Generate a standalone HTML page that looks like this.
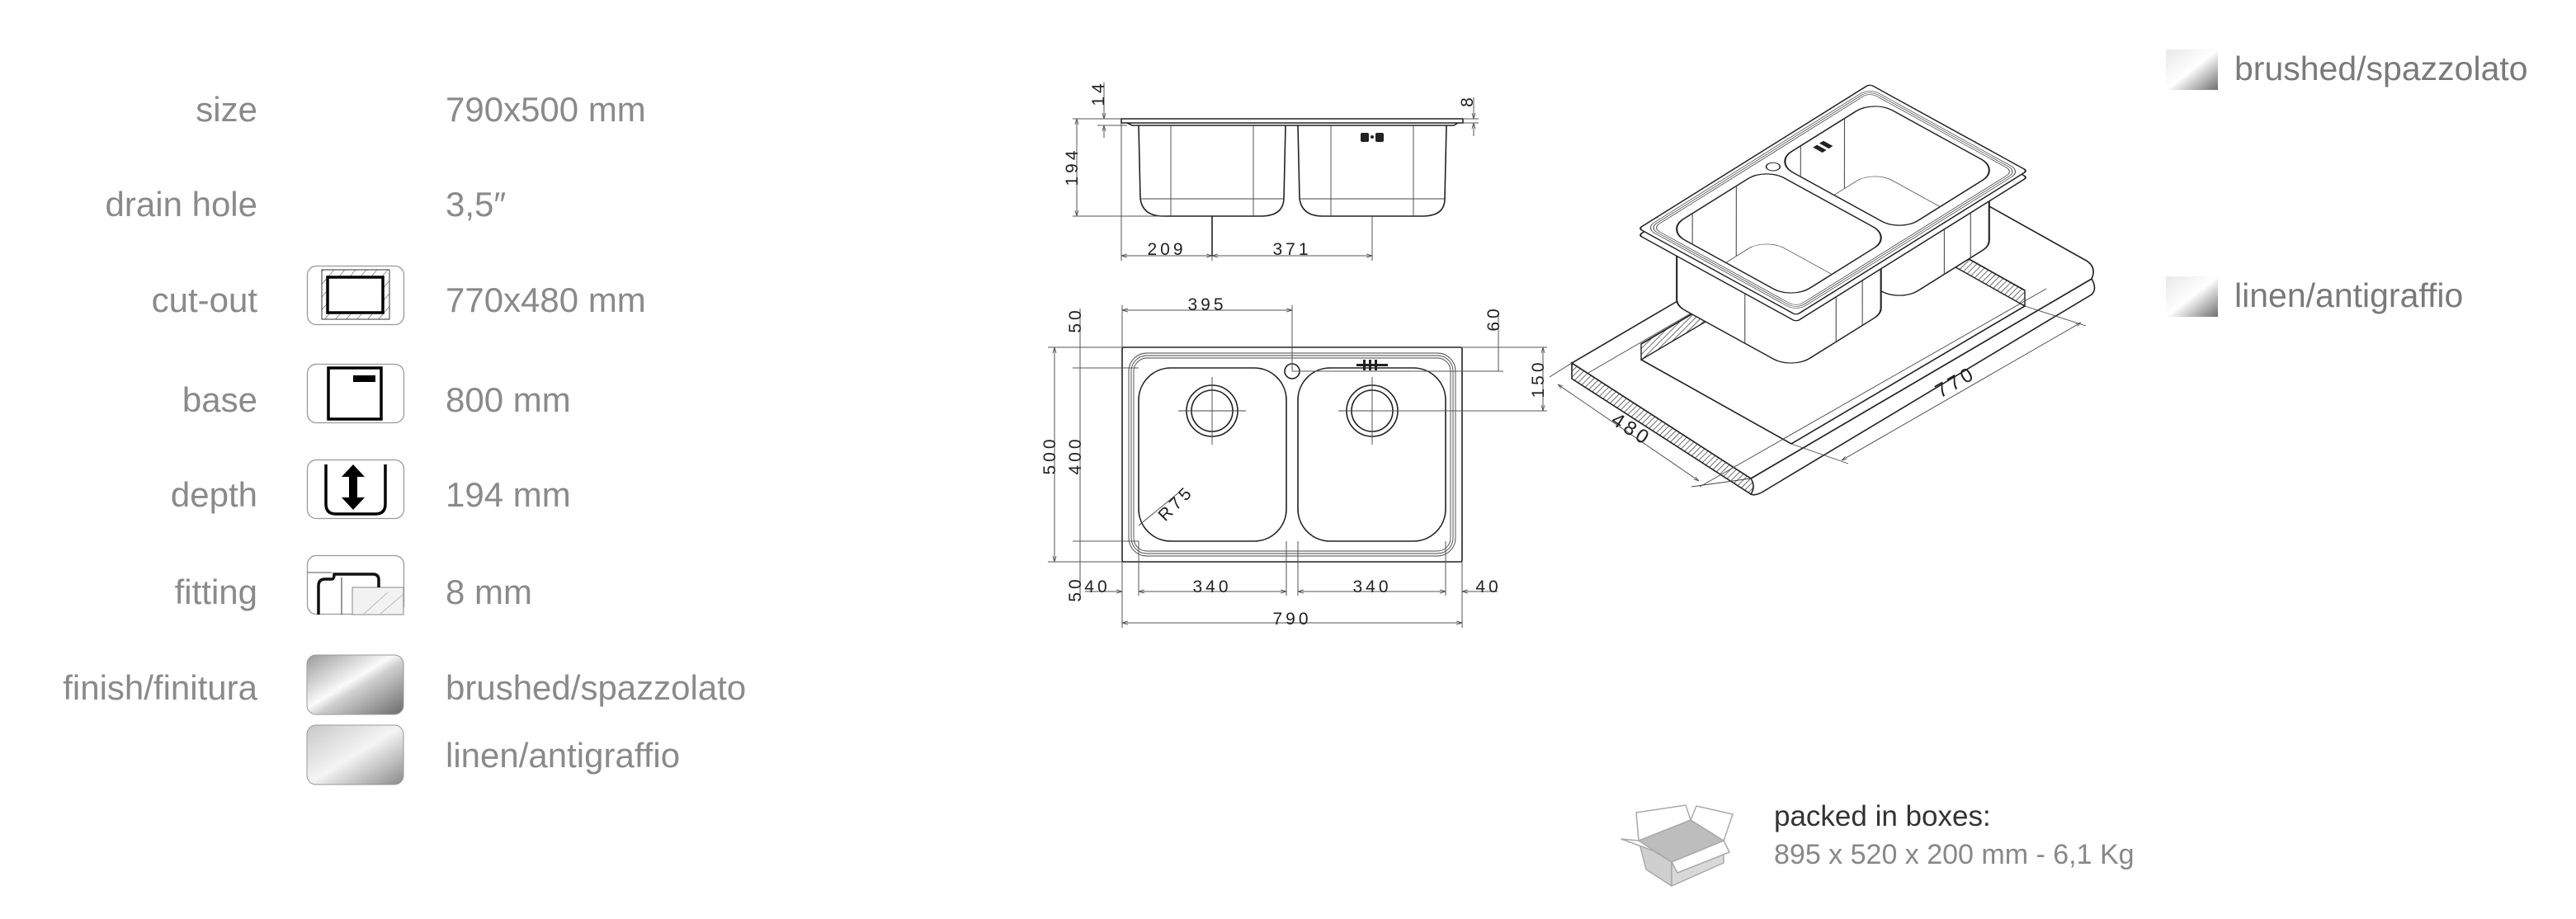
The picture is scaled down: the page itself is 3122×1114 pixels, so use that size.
<!DOCTYPE html>
<html><head><meta charset="utf-8"><style>
html,body{margin:0;padding:0;background:#fff}
svg{display:block}
.lb{font-family:"Liberation Sans",sans-serif;font-size:42px;fill:#8a8a8a}
.dm{font-family:"Liberation Sans",sans-serif;font-size:21px;fill:#222;letter-spacing:4px}
.ln{stroke:#222;stroke-width:1.6;fill:none}
.th{stroke:#444;stroke-width:0.9;fill:none}
.dl{stroke:#555;stroke-width:1;fill:none}
</style></head><body>
<svg width="3122" height="1114" viewBox="0 0 3122 1114" xmlns="http://www.w3.org/2000/svg">
<defs>
<linearGradient id="gb" x1="0" y1="0" x2="1" y2="1">
<stop offset="0" stop-color="#9a9a9a"/><stop offset="0.45" stop-color="#fafafa"/><stop offset="0.55" stop-color="#cfcfcf"/><stop offset="1" stop-color="#6a6a6a"/></linearGradient>
<linearGradient id="gl" x1="0" y1="0" x2="1" y2="1">
<stop offset="0" stop-color="#c8c8c8"/><stop offset="0.5" stop-color="#f4f4f4"/><stop offset="1" stop-color="#8a8a8a"/></linearGradient>
<linearGradient id="gs" x1="0" y1="0" x2="1" y2="1">
<stop offset="0" stop-color="#e8e8e8"/><stop offset="0.5" stop-color="#fff"/><stop offset="1" stop-color="#6e6e6e"/></linearGradient>
<pattern id="hat" width="5" height="5" patternUnits="userSpaceOnUse" patternTransform="rotate(45)">
<rect width="5" height="5" fill="#fff"/><line x1="0" y1="0" x2="0" y2="5" stroke="#333" stroke-width="1.4"/></pattern>
<pattern id="hat2" width="10" height="10" patternUnits="userSpaceOnUse" patternTransform="rotate(40)">
<rect width="10" height="10" fill="#fff"/><line x1="0" y1="0" x2="0" y2="10" stroke="#333" stroke-width="1"/></pattern>
<marker id="ar" viewBox="0 0 10 10" refX="10" refY="5" markerWidth="7" markerHeight="7" orient="auto-start-reverse"><path d="M0,2 L10,5 L0,8" fill="none" stroke="#555" stroke-width="1.2"/></marker>
<clipPath id="cl1" clipPathUnits="userSpaceOnUse"><rect x="40" y="50" width="340" height="400" rx="60"/></clipPath>
<clipPath id="cl2" clipPathUnits="userSpaceOnUse"><rect x="410" y="50" width="340" height="400" rx="60"/></clipPath>
</defs>

<!-- LEFT SPEC TABLE -->
<g class="lb">
<text x="312" y="147" text-anchor="end">size</text>
<text x="312" y="262" text-anchor="end">drain hole</text>
<text x="312" y="378" text-anchor="end">cut-out</text>
<text x="312" y="499" text-anchor="end">base</text>
<text x="312" y="614" text-anchor="end">depth</text>
<text x="312" y="732" text-anchor="end">fitting</text>
<text x="312" y="848" text-anchor="end">finish/finitura</text>
<text x="540" y="147">790x500 mm</text>
<text x="540" y="262">3,5″</text>
<text x="540" y="378">770x480 mm</text>
<text x="540" y="499">800 mm</text>
<text x="540" y="614">194 mm</text>
<text x="540" y="732">8 mm</text>
<text x="540" y="848">brushed/spazzolato</text>
<text x="540" y="930">linen/antigraffio</text>
</g>
<!-- icons -->
<rect x="372.5" y="322.5" width="117" height="71" rx="11" fill="#fff" stroke="#9a9a9a" stroke-width="1.3"/>
<rect x="390" y="327" width="82" height="60" fill="url(#hat2)" stroke="#333" stroke-width="1"/>
<rect x="397" y="336" width="67" height="43" fill="#fff" stroke="#000" stroke-width="3.5"/>
<rect x="372.5" y="441.5" width="117" height="71" rx="11" fill="#fff" stroke="#9a9a9a" stroke-width="1.3"/>
<rect x="398" y="446" width="64" height="62" fill="none" stroke="#000" stroke-width="3.5"/>
<rect x="428" y="455" width="27" height="8" fill="#000"/>
<rect x="372.5" y="557.5" width="117" height="71" rx="11" fill="#fff" stroke="#9a9a9a" stroke-width="1.3"/>
<path d="M395,563 V611 Q395,623 407,623 H455 Q467,623 467,611 V563" fill="none" stroke="#000" stroke-width="3.5"/>
<path d="M428,563 L442,578 H433 V603 H442 L428,618 L414,603 H423 V578 H414 Z" fill="#000"/>
<rect x="372.5" y="673.5" width="117" height="71" rx="11" fill="#fff" stroke="#9a9a9a" stroke-width="1.3"/>
<line x1="373" y1="694" x2="402" y2="694" stroke="#555" stroke-width="1"/>
<rect x="427" y="712" width="62" height="33" fill="#f2f2f2" stroke="#888" stroke-width="1"/>
<line x1="440" y1="745" x2="470" y2="718" stroke="#bbb" stroke-width="1"/><line x1="460" y1="745" x2="489" y2="720" stroke="#bbb" stroke-width="1"/>
<path d="M386,745 V710 Q386,702 394,702 H402 Q405,702 405,696 H452 Q459,696 459,703 V712" fill="none" stroke="#111" stroke-width="3.5"/>
<line x1="414" y1="700" x2="414" y2="745" stroke="#555" stroke-width="1.2"/>
<rect x="372" y="794" width="117" height="72" rx="11" fill="url(#gb)" stroke="#999" stroke-width="1"/>
<rect x="372" y="879" width="117" height="72" rx="11" fill="url(#gl)" stroke="#999" stroke-width="1"/>

<!-- SIDE VIEW -->
<g class="ln">
<path d="M1359,144 H1773 V149 H1359 Z"/>
<path d="M1366,149 L1372,152 H1762 L1767,149"/>
<path d="M1380,152 L1382,241 Q1385,262 1410,262 H1528 Q1555,262 1556,241 L1558,152"/>
<path d="M1573,152 L1575,241 Q1578,262 1603,262 H1724 Q1751,262 1751,241 L1753,152"/>
</g>
<g class="th">
<line x1="1382" y1="241" x2="1556" y2="241"/><line x1="1575" y1="241" x2="1751" y2="241"/>
<line x1="1419" y1="152" x2="1419" y2="262"/><line x1="1519" y1="152" x2="1519" y2="262"/>
<line x1="1613" y1="152" x2="1613" y2="262"/><line x1="1713" y1="152" x2="1713" y2="262"/>
</g>
<g fill="#222"><rect x="1649" y="161" width="10" height="11" rx="2"/><rect x="1667" y="161" width="10" height="11" rx="2"/><circle cx="1663" cy="166" r="2"/></g>
<g class="dl">
<line x1="1300" y1="144" x2="1359" y2="144"/><line x1="1300" y1="262" x2="1410" y2="262"/><line x1="1330" y1="152" x2="1366" y2="152"/>
<line x1="1305" y1="144" x2="1305" y2="262" marker-start="url(#ar)" marker-end="url(#ar)"/>
<line x1="1338" y1="100" x2="1338" y2="144" marker-end="url(#ar)"/><line x1="1338" y1="167" x2="1338" y2="152" marker-end="url(#ar)"/>
<line x1="1773" y1="144" x2="1792" y2="144"/><line x1="1773" y1="149" x2="1792" y2="149"/>
<line x1="1786" y1="118" x2="1786" y2="144" marker-end="url(#ar)"/><line x1="1786" y1="165" x2="1786" y2="149" marker-end="url(#ar)"/>
<line x1="1359" y1="149" x2="1359" y2="316"/><line x1="1469" y1="262" x2="1469" y2="316"/><line x1="1663" y1="262" x2="1663" y2="316"/>
<line x1="1359" y1="310" x2="1469" y2="310" marker-start="url(#ar)" marker-end="url(#ar)"/>
<line x1="1469" y1="310" x2="1663" y2="310" marker-start="url(#ar)" marker-end="url(#ar)"/>
</g>
<line x1="1469" y1="262" x2="1469" y2="310" stroke="#222" stroke-width="1.6"/>
<g class="dm">
<text x="1414" y="309" text-anchor="middle">209</text>
<text x="1566" y="309" text-anchor="middle">371</text>
<text transform="translate(1306,202) rotate(-90)" text-anchor="middle">194</text>
<text transform="translate(1338,113) rotate(-90)" text-anchor="middle">14</text>
<text transform="translate(1785,122) rotate(-90)" text-anchor="middle">8</text>
</g>

<!-- TOP VIEW -->
<g class="ln">
<rect x="1360" y="421" width="412" height="260" rx="2"/>
<rect x="1380" y="446" width="179" height="210" rx="39"/>
<rect x="1573" y="446" width="179" height="210" rx="39"/>
<circle cx="1469" cy="498" r="31"/><circle cx="1469" cy="498" r="25"/>
<circle cx="1663" cy="498" r="31"/><circle cx="1663" cy="498" r="25"/>
<circle cx="1566" cy="450" r="9"/>
</g>
<g class="th">
<rect x="1368" y="428" width="396" height="246" rx="22"/>
<rect x="1371" y="431" width="390" height="240" rx="19"/>
<rect x="1374" y="434" width="384" height="234" rx="16"/>
<line x1="1428" y1="498" x2="1510" y2="498"/><line x1="1469" y1="457" x2="1469" y2="539"/>
<line x1="1622" y1="498" x2="1704" y2="498"/><line x1="1663" y1="457" x2="1663" y2="539"/>
<line x1="1380" y1="637" x2="1430" y2="596"/>
</g>
<g fill="#222"><rect x="1644" y="441" width="38" height="3"/><rect x="1652" y="436" width="3" height="13"/><rect x="1659" y="436" width="3" height="13"/><rect x="1666" y="436" width="3" height="13"/></g>
<g class="dl">
<line x1="1360" y1="421" x2="1360" y2="370"/><line x1="1566" y1="450" x2="1566" y2="370"/>
<line x1="1360" y1="376" x2="1566" y2="376" marker-start="url(#ar)" marker-end="url(#ar)"/>
<line x1="1270" y1="421" x2="1360" y2="421"/><line x1="1270" y1="681" x2="1360" y2="681"/>
<line x1="1278" y1="421" x2="1278" y2="681" marker-start="url(#ar)" marker-end="url(#ar)"/>
<line x1="1300" y1="446" x2="1380" y2="446"/><line x1="1300" y1="656" x2="1380" y2="656"/>
<line x1="1309" y1="374" x2="1309" y2="724"/>
<line x1="1772" y1="421" x2="1875" y2="421"/><line x1="1566" y1="450" x2="1822" y2="450"/><line x1="1663" y1="498" x2="1875" y2="498"/>
<line x1="1816" y1="380" x2="1816" y2="450"/>
<line x1="1870" y1="421" x2="1870" y2="498" marker-start="url(#ar)" marker-end="url(#ar)"/>
<line x1="1360" y1="681" x2="1360" y2="761"/><line x1="1772" y1="681" x2="1772" y2="761"/>
<line x1="1380" y1="656" x2="1380" y2="722"/><line x1="1559" y1="656" x2="1559" y2="722"/>
<line x1="1573" y1="656" x2="1573" y2="722"/><line x1="1752" y1="656" x2="1752" y2="722"/>
<line x1="1315" y1="717" x2="1360" y2="717" marker-end="url(#ar)"/>
<line x1="1380" y1="717" x2="1559" y2="717" marker-start="url(#ar)" marker-end="url(#ar)"/>
<line x1="1573" y1="717" x2="1752" y2="717" marker-start="url(#ar)" marker-end="url(#ar)"/>
<line x1="1815" y1="717" x2="1772" y2="717" marker-end="url(#ar)"/>
<line x1="1360" y1="755" x2="1772" y2="755" marker-start="url(#ar)" marker-end="url(#ar)"/>
</g>
<g class="dm">
<text x="1463" y="376" text-anchor="middle">395</text>
<text x="1469" y="718" text-anchor="middle">340</text>
<text x="1663" y="718" text-anchor="middle">340</text>
<text x="1330" y="718" text-anchor="middle">40</text>
<text x="1804" y="718" text-anchor="middle">40</text>
<text x="1566" y="757" text-anchor="middle">790</text>
<text transform="translate(1279,552) rotate(-90)" text-anchor="middle">500</text>
<text transform="translate(1310,552) rotate(-90)" text-anchor="middle">400</text>
<text transform="translate(1310,388) rotate(-90)" text-anchor="middle">50</text>
<text transform="translate(1310,714) rotate(-90)" text-anchor="middle">50</text>
<text transform="translate(1817,386) rotate(-90)" text-anchor="middle">60</text>
<text transform="translate(1871,459) rotate(-90)" text-anchor="middle">150</text>
<text transform="translate(1430,615) rotate(-45)" text-anchor="middle">R75</text>
</g>

<!-- ISO VIEW: countertop -->
<path d="M2122,580 L2535,338 Q2542,350 2535,357 L2140,594 Q2128,602 2122,599 Z" fill="#fff" stroke="#222" stroke-width="1.6"/>
<path d="M1905,440 L2122,580 Q2128,590 2122,599 L1905,459 Z" fill="url(#hat)" stroke="#222" stroke-width="1.6"/>
<path d="M1905,440 L2122,580 L2535,338 Q2542,322 2525,314 L2318,198 L1905,440 Z" fill="#fff" stroke="#222" stroke-width="1.6"/>
<path d="M1989,417 L2272,250 L2454,352 L2454,371 L2272,269 L1989,436 Z" fill="url(#hat)" stroke="#222" stroke-width="1.4"/>
<path d="M1989,436 L2171,538 L2454,371" fill="none" stroke="#222" stroke-width="1.6"/>
<path d="M1989,417 L2272,250 L2454,352" fill="none" stroke="#222" stroke-width="1.6"/>
<g class="th">
<line x1="1905" y1="440" x2="1878" y2="457"/><line x1="2122" y1="580" x2="2050" y2="590"/>
<line x1="1888" y1="466" x2="2059" y2="583" marker-start="url(#ar)" marker-end="url(#ar)"/>
<line x1="2171" y1="538" x2="2240" y2="562"/><line x1="2454" y1="371" x2="2528" y2="395"/>
<line x1="2232" y1="558" x2="2522" y2="391" marker-start="url(#ar)" marker-end="url(#ar)"/>
<line x1="1925" y1="452" x2="2080" y2="362"/><line x1="2060" y1="590" x2="2480" y2="350"/>
</g>
<g class="dm" style="font-size:24px">
<text transform="translate(1973,527) rotate(33)" text-anchor="middle">480</text>
<text transform="translate(2374,470) rotate(-30)" text-anchor="middle">770</text>
</g>

<!-- ISO sink in plan coords -->
<g transform="matrix(0.3544,-0.2215,0.382,0.21,1986,277)" stroke-linejoin="round">
 <g fill="#fff" stroke="#222" stroke-width="4">
  <rect x="410" y="50" width="340" height="400" rx="60" transform="translate(-204.2,189.4)"/>
  <polygon points="429.2,66 730.8,434 526.6,623.4 225,255.4" stroke="none"/>
  <line x1="730.8" y1="434" x2="526.6" y2="623.4"/>
 </g>
 <g fill="none" stroke="#444" stroke-width="2"><line x1="650" y1="450" x2="445.8" y2="639.4"/><line x1="560" y1="450" x2="355.8" y2="639.4"/></g>
 <g fill="#fff" stroke="#222" stroke-width="4">
  <rect x="40" y="50" width="340" height="400" rx="60" transform="translate(-204.2,189.4)"/>
  <polygon points="59.2,66 360.8,434 156.6,623.4 -145,255.4" stroke="none"/>
  <line x1="360.8" y1="434" x2="156.6" y2="623.4"/>
  <line x1="59.2" y1="66" x2="-145" y2="255.4"/>
 </g>
 <g fill="none" stroke="#444" stroke-width="2"><line x1="280" y1="450" x2="75.8" y2="639.4"/><line x1="190" y1="450" x2="-14.2" y2="639.4"/><line x1="40" y1="300" x2="-164.2" y2="489.4"/></g>
 <rect x="0" y="0" width="790" height="500" rx="10" fill="#fff" stroke="#222" stroke-width="4" transform="translate(-19.2,17.8)"/>
 <rect x="0" y="0" width="790" height="500" rx="10" fill="#fff" stroke="#222" stroke-width="4"/>
 <rect x="12" y="10" width="766" height="480" rx="30" fill="none" stroke="#444" stroke-width="2"/>
 <rect x="18" y="16" width="754" height="468" rx="26" fill="none" stroke="#444" stroke-width="2"/>
 <rect x="24" y="22" width="742" height="456" rx="22" fill="none" stroke="#444" stroke-width="2"/>
 <rect x="40" y="50" width="340" height="400" rx="60" fill="#fff" stroke="#222" stroke-width="4"/>
 <rect x="410" y="50" width="340" height="400" rx="60" fill="#fff" stroke="#222" stroke-width="4"/>
 <g clip-path="url(#cl1)" fill="none" stroke="#444" stroke-width="2">
  <rect x="40" y="50" width="340" height="400" rx="60" transform="translate(-204.2,189.4)"/>
  <line x1="40" y1="150" x2="-164" y2="339"/><line x1="40" y1="300" x2="-164" y2="489"/>
  <line x1="130" y1="50" x2="-74" y2="239"/><line x1="280" y1="50" x2="76" y2="239"/>
 </g>
 <g clip-path="url(#cl2)" fill="none" stroke="#444" stroke-width="2">
  <rect x="410" y="50" width="340" height="400" rx="60" transform="translate(-204.2,189.4)"/>
  <line x1="410" y1="150" x2="206" y2="339"/><line x1="410" y1="300" x2="206" y2="489"/>
  <line x1="500" y1="50" x2="296" y2="239"/><line x1="650" y1="50" x2="446" y2="239"/>
 </g>
 <circle cx="395" cy="60" r="16" fill="#fff" stroke="#222" stroke-width="3"/>
 <g fill="#222"><rect x="515" y="75" width="14" height="30"/><rect x="537" y="75" width="14" height="30"/></g>
</g>

<!-- right swatches -->
<rect x="2625" y="60" width="63" height="49" fill="url(#gs)"/>
<rect x="2625" y="335" width="63" height="49" fill="url(#gs)"/>
<g class="lb" style="fill:#7a7a7a;font-size:41px">
<text x="2708" y="97">brushed/spazzolato</text>
<text x="2708" y="372">linen/antigraffio</text>
</g>

<!-- packed -->
<g stroke="#aaa" stroke-width="1.5" stroke-linejoin="round">
<path d="M1986,1019 L2026,1045 L2026,1074 L1995,1054 Z" fill="#cfcfcf"/>
<path d="M2026,1045 L2089,1019 L2089,1046 L2026,1074 Z" fill="#d9d9d9"/>
<path d="M1986,1019 L2049,994 L2089,1019 L2026,1045 Z" fill="#bdbdbd"/>
<path d="M1986,1019 L1983,985 L2043,976 L2049,994 Z" fill="#fff"/>
<path d="M2049,994 L2056,977 L2100,987 L2089,1019 Z" fill="#fff"/>
<path d="M1986,1019 L1965,1017 L2003,1031 L2026,1045 Z" fill="#fff"/>
<path d="M2026,1045 L2033,1058 L2096,1033 L2089,1019 Z" fill="#fff"/>
</g>
<text x="2150" y="1001" style="font-family:'Liberation Sans',sans-serif;font-size:35px;fill:#333">packed in boxes:</text>
<text x="2150" y="1047" style="font-family:'Liberation Sans',sans-serif;font-size:34px;fill:#888">895 x 520 x 200 mm - 6,1 Kg</text>
</svg>
</body></html>
